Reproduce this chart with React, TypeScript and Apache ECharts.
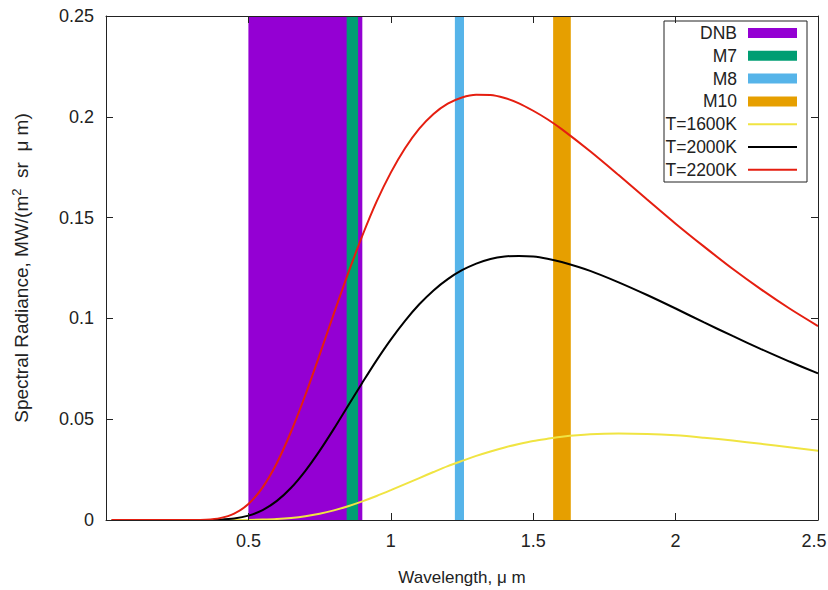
import React, { useEffect, useRef } from "react";
import * as echarts from "echarts";

const wavelengths = [0.02, 0.1, 0.2, 0.3, 0.35, 0.4, 0.45, 0.5, 0.55, 0.6, 0.65, 0.7, 0.75, 0.8, 0.85, 0.9, 0.95, 1.0, 1.05, 1.1, 1.15, 1.2, 1.25, 1.3, 1.35, 1.4, 1.45, 1.5, 1.55, 1.6, 1.7, 1.8, 1.9, 2.0, 2.1, 2.2, 2.3, 2.4, 2.5];
const t1600 = [0, 0, 0, 0, 0, 0, 0, 0.00006, 0.00019, 0.00047, 0.00101, 0.00187, 0.00312, 0.00477, 0.00683, 0.00923, 0.0119, 0.0148, 0.0178, 0.0208, 0.0238, 0.0267, 0.0293, 0.0318, 0.034, 0.036, 0.0377, 0.0392, 0.0403, 0.0413, 0.0425, 0.0429, 0.0427, 0.042, 0.0408, 0.0394, 0.0378, 0.0361, 0.0344];
const t2000 = [0, 0, 0, 0, 0.00001, 0.00018, 0.00073, 0.00215, 0.00493, 0.0095, 0.016, 0.0244, 0.0343, 0.0452, 0.0567, 0.0681, 0.0792, 0.0895, 0.0988, 0.107, 0.1139, 0.1195, 0.1239, 0.1272, 0.1295, 0.1307, 0.131, 0.1307, 0.1296, 0.128, 0.1236, 0.1179, 0.1116, 0.1049, 0.098, 0.0913, 0.0848, 0.0786, 0.0727];
const t2200 = [0, 0, 0, 0.00002, 0.00017, 0.00092, 0.00315, 0.0079, 0.0162, 0.0283, 0.0439, 0.062, 0.0819, 0.1024, 0.1223, 0.141, 0.1579, 0.1723, 0.1844, 0.1941, 0.2014, 0.2065, 0.2096, 0.2109, 0.2108, 0.2093, 0.2067, 0.203, 0.1988, 0.1939, 0.1829, 0.1711, 0.159, 0.147, 0.1356, 0.1246, 0.1144, 0.1049, 0.0962];

const bandNames = ["DNB", "M7", "M8", "M10"];
const bandStart = [0.5, 0.845, 1.225, 1.57];
const bandEnd = [0.9, 0.885, 1.257, 1.632];
const bandColors = ["#9400d3", "#009e73", "#56b4e9", "#e69f00"];

const curveNames = ["T=1600K", "T=2000K", "T=2200K"];
const curveData = [t1600, t2000, t2200];
const curveColors = ["#f0e442", "#000000", "#e51e10"];

const xTicks = [0, 0.5, 1, 1.5, 2, 2.5];
const yTicks = [0, 0.05, 0.1, 0.15, 0.2, 0.25];

const FONT = "Liberation Sans, Arial, sans-serif";
const FS = 18;
const LFS = 17.5;
const TXT = "#222";
const AX = "#222";

export default function App() {
  const ref = useRef<HTMLDivElement>(null);
  useEffect(() => {
    if (!ref.current) return;
    const chart = echarts.init(ref.current, null, { renderer: "svg" });

    const bandSeries = bandNames.map((name, i) => ({
      type: "custom",
      name,
      xAxisIndex: 0,
      yAxisIndex: 0,
      z: 1,
      silent: true,
      data: [[bandStart[i], bandEnd[i]]],
      encode: { x: [0, 1] },
      renderItem: (params: any, api: any) => {
        const p0 = api.coord([api.value(0), yTicks[yTicks.length - 1]]);
        const p1 = api.coord([api.value(1), yTicks[0]]);
        return {
          type: "rect",
          shape: { x: p0[0], y: p0[1], width: p1[0] - p0[0], height: p1[1] - p0[1] },
          style: { fill: bandColors[i] },
        };
      },
    }));

    const lineSeries = curveNames.map((name, i) => ({
      type: "line",
      name,
      xAxisIndex: 0,
      yAxisIndex: 0,
      z: 3,
      showSymbol: false,
      smooth: 0.3,
      silent: true,
      lineStyle: { color: curveColors[i], width: 2 },
      data: wavelengths.map((w, k) => [w, curveData[i][k]]),
    }));

    const rowY0 = 33;
    const rowStep = 22.8;
    const legendChildren: any[] = [
      {
        type: "rect",
        shape: { x: 664, y: 21, width: 143, height: 161 },
        style: { fill: "#fff", stroke: AX, lineWidth: 1 },
      },
    ];
    bandNames.forEach((n, i) => {
      const y = rowY0 + i * rowStep;
      legendChildren.push({
        type: "text",
        style: { text: n, x: 737, y, textAlign: "right", textVerticalAlign: "middle", font: `${LFS}px ${FONT}`, fill: TXT },
      });
      legendChildren.push({
        type: "rect",
        shape: { x: 748, y: y - 5, width: 49, height: 10 },
        style: { fill: bandColors[i] },
      });
    });
    curveNames.forEach((n, i) => {
      const y = rowY0 + (i + 4) * rowStep;
      legendChildren.push({
        type: "text",
        style: { text: n, x: 737, y, textAlign: "right", textVerticalAlign: "middle", font: `${LFS}px ${FONT}`, fill: TXT },
      });
      legendChildren.push({
        type: "line",
        shape: { x1: 748, y1: y, x2: 797, y2: y },
        style: { stroke: curveColors[i], lineWidth: 2 },
      });
    });

    const xBase = {
      type: "value",
      min: xTicks[0],
      max: xTicks[xTicks.length - 1],
      interval: 0.5,
      splitLine: { show: false },
      z: 10,
      axisLine: { show: true, onZero: false, lineStyle: { color: AX, width: 1 } },
      axisTick: { show: true, inside: true, length: 7, lineStyle: { color: AX } },
    };
    const yBase = {
      type: "value",
      min: yTicks[0],
      max: yTicks[yTicks.length - 1],
      interval: 0.05,
      splitLine: { show: false },
      z: 10,
      axisLine: { show: true, onZero: false, lineStyle: { color: AX, width: 1 } },
      axisTick: { show: true, inside: true, length: 7, lineStyle: { color: AX } },
    };

    const lastX = xTicks[xTicks.length - 1];

    chart.setOption({
      animation: false,
      backgroundColor: "#ffffff",
      textStyle: { fontFamily: FONT },
      grid: { left: 106, top: 16, right: 10, bottom: 70, containLabel: false, outerBoundsMode: "none" },
      xAxis: [
        {
          ...xBase,
          position: "bottom",
          name: "Wavelength, μ m",
          nameLocation: "middle",
          nameGap: 49,
          nameTextStyle: { fontSize: 17, color: TXT, fontFamily: FONT },
          axisLabel: {
            show: true,
            margin: 12,
            fontSize: FS,
            color: TXT,
            fontFamily: FONT,
            hideOverlap: false,
            formatter: (v: number) => (v === 0 ? "" : v === lastX ? `{last|${v}}` : String(v)),
            rich: {
              last: { fontSize: FS, color: TXT, fontFamily: FONT, padding: [0, 8, 0, 0] },
            },
          },
        },
        { ...xBase, position: "top", axisLabel: { show: false } },
      ],
      yAxis: [
        {
          ...yBase,
          position: "left",
          name: "Spectral Radiance, MW/(m{sup|2}  sr  μ m)",
          nameLocation: "middle",
          nameGap: 74,
          nameRotate: 90,
          nameTextStyle: {
            fontSize: 19,
            color: TXT,
            fontFamily: FONT,
            rich: {
              sup: { fontSize: 13, color: TXT, fontFamily: FONT, verticalAlign: "top", lineHeight: 22 },
            },
          },
          axisLabel: { show: true, margin: 12, fontSize: FS, color: TXT, fontFamily: FONT },
        },
        { ...yBase, position: "right", axisLabel: { show: false } },
      ],
      series: [...bandSeries, ...lineSeries],
      graphic: [{ type: "group", z: 100, children: legendChildren }],
    });

    return () => chart.dispose();
  }, []);

  return (
    <div
      ref={ref}
      style={{ position: "fixed", left: 0, top: 0, width: 828, height: 590, background: "#fff" }}
    />
  );
}
